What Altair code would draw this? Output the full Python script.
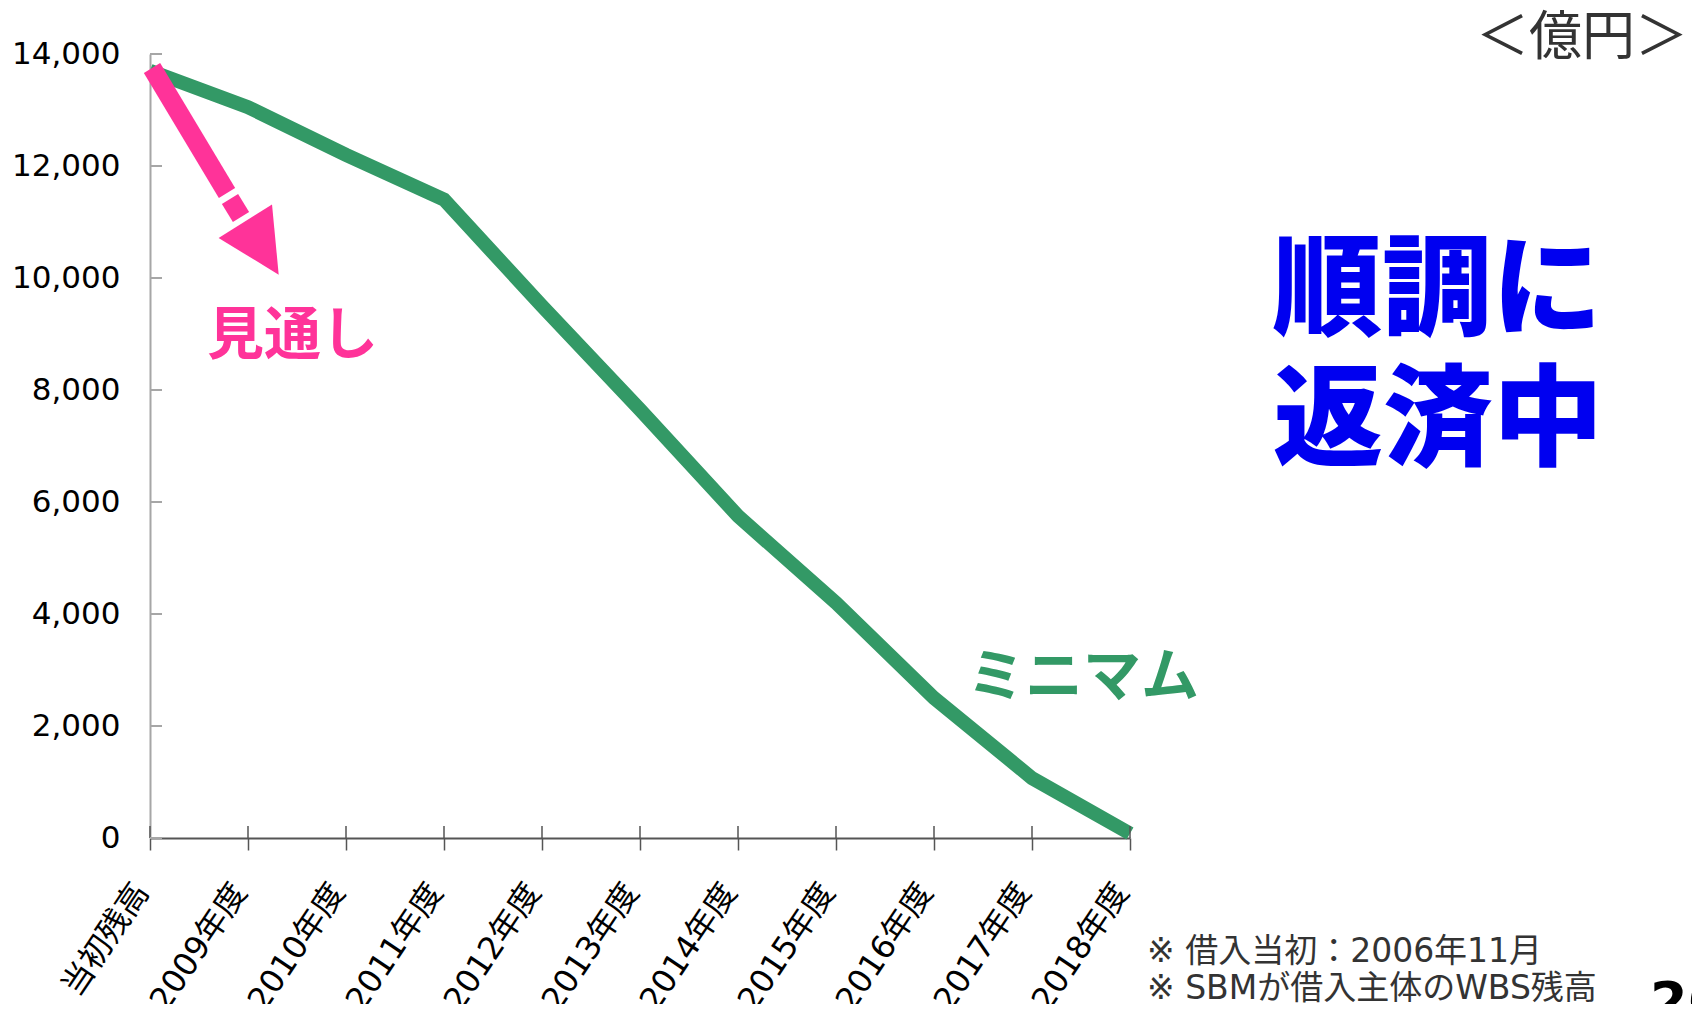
import altair as alt
import pandas as pd

# ---- data ----
categories = ["当初残高", "2009年度", "2010年度", "2011年度", "2012年度", "2013年度",
              "2014年度", "2015年度", "2016年度", "2017年度", "2018年度"]
balances = [13700, 13050, 12200, 11400, 9500, 7650, 5750, 4200, 2500, 1070, 80]
y_tick_values = [0, 2000, 4000, 6000, 8000, 10000, 12000, 14000]

unit_label = "＜億円＞"
headline = ["順調に", "返済中"]
forecast_label = "見通し"
minimum_label = "ミニマム"
footnotes = ["※ 借入当初：2006年11月", "※ SBMが借入主体のWBS残高"]
page_number = "26"

W, H = 980, 784
GREEN = "#339966"
PINK = "#ff3399"
BLUE = "#0000f0"
CJK = "Noto Sans CJK JP"
MIXED = "DejaVu Sans, Noto Sans CJK JP"

df = pd.DataFrame({"cat": categories, "val": balances})
ticks_df = pd.DataFrame({"v": y_tick_values})
one = pd.DataFrame({"k": [0]})

x_scale = alt.Scale(type="point", padding=0)
y_scale = alt.Scale(domain=[0, 14000], nice=False)

line = alt.Chart(df).mark_line(color=GREEN, strokeWidth=14, strokeCap="butt").encode(
    x=alt.X("cat:N", sort=categories, scale=x_scale,
            axis=alt.Axis(title=None, labelAngle=304, labelAlign="right", labelBaseline="middle",
                          labelFont=MIXED, labelFontSize=32, labelColor="#000000",
                          labelPadding=36, labelOffset=-9, ticks=True, tickSize=12,
                          tickColor="#555555", tickWidth=1.5, domainColor="#555555",
                          domainWidth=2, grid=False, labelOverlap=False)),
    y=alt.Y("val:Q", scale=y_scale,
            axis=alt.Axis(title=None, values=y_tick_values, format=",.0f", ticks=False, tickSize=0,
                          labelPadding=30, labelFont="DejaVu Sans", labelFontSize=31,
                          labelColor="#000000", domainColor="#a6a6a6", domainWidth=2,
                          grid=False)),
)

# upper half of the x-axis ticks (ticks cross the axis line)
xticks_up = alt.Chart(df).mark_rule(color="#555555", strokeWidth=1.5).encode(
    x=alt.X("cat:N", sort=categories, scale=x_scale),
    y=alt.value(H - 12), y2=alt.value(H),
)

# inward y-axis ticks
yticks_in = alt.Chart(ticks_df).mark_rule(color="#a6a6a6", strokeWidth=2).encode(
    y=alt.Y("v:Q", scale=y_scale), x=alt.value(0), x2=alt.value(12),
)

# pink arrow (annotation)
arrow_a = alt.Chart(one).mark_rule(color=PINK, strokeWidth=19, strokeCap="butt").encode(
    x=alt.value(2), y=alt.value(14), x2=alt.value(77), y2=alt.value(139))
arrow_b = alt.Chart(one).mark_rule(color=PINK, strokeWidth=19, strokeCap="butt").encode(
    x=alt.value(80), y=alt.value(145), x2=alt.value(91), y2=alt.value(163))
arrow_head = alt.Chart(one).mark_point(
    shape="M -1 -1 L 1 -1 L 0 1 Z", filled=True, color=PINK, opacity=1,
    size=3969, angle=328, strokeWidth=0).encode(x=alt.value(112), y=alt.value(194))


def label(text, x, y, size, color, weight="normal", font=CJK):
    return alt.Chart(pd.DataFrame({"t": [text]})).mark_text(
        align="left", baseline="middle", font=font, fontSize=size,
        fontWeight=weight, color=color).encode(
        text="t:N", x=alt.value(x), y=alt.value(y))


texts = [
    label(unit_label, 1326, -15, 53, "#333333"),
    label(headline[0], 1122, 240, 110, BLUE, 900),
    label(headline[1], 1123, 370, 110, BLUE, 900),
    label(forecast_label, 57, 283, 57, PINK, "bold"),
    label(minimum_label, 817, 625, 58, GREEN, "bold"),
    label(footnotes[0], 997, 898, 33, "#333333", "normal", MIXED),
    label(footnotes[1], 997, 935, 33, "#333333", "normal", MIXED),
    label(page_number, 1500, 950, 54, "#000000", "bold", "DejaVu Sans"),
]

chart = alt.layer(line, xticks_up, yticks_in, arrow_a, arrow_b, arrow_head, *texts).properties(
    width=W, height=H,
    padding={"left": 142, "top": 46, "right": 562, "bottom": 166},
    autosize=alt.AutoSizeParams(type="none"),
    background="white",
).configure_view(stroke="transparent")

chart.save("out.html", embed_options={"renderer": "svg", "actions": False})
